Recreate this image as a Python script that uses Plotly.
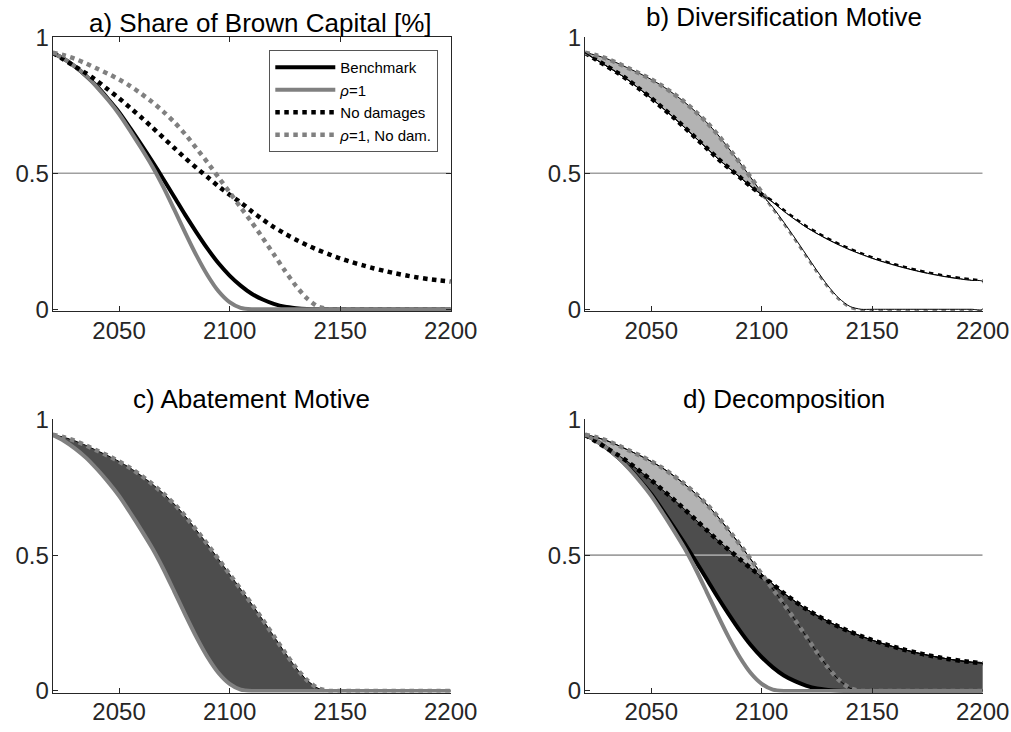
import plotly.graph_objects as go
import numpy as np

# ---------------- data ----------------
years = list(range(2020, 2201, 5))

benchmark = [0.943, 0.921, 0.893, 0.859, 0.820, 0.774, 0.725, 0.667, 0.606, 0.544,
             0.479, 0.413, 0.346, 0.283, 0.223, 0.169, 0.124, 0.087, 0.057, 0.036,
             0.020, 0.009, 0.004, 0.001, 0.0, 0.0, 0.0, 0.0, 0.0, 0.0,
             0.0, 0.0, 0.0, 0.0, 0.0, 0.0, 0.0]

rho_one = [0.943, 0.921, 0.893, 0.859, 0.817, 0.770, 0.718, 0.657, 0.593, 0.526,
           0.450, 0.366, 0.280, 0.198, 0.125, 0.066, 0.026, 0.005, 0.0, 0.0,
           0.0, 0.0, 0.0, 0.0, 0.0, 0.0, 0.0, 0.0, 0.0, 0.0,
           0.0, 0.0, 0.0, 0.0, 0.0, 0.0, 0.0]

no_damages = [0.943, 0.918, 0.893, 0.868, 0.840, 0.808, 0.776, 0.741, 0.706, 0.669,
              0.631, 0.593, 0.555, 0.520, 0.486, 0.452, 0.421, 0.393, 0.360, 0.330,
              0.302, 0.278, 0.256, 0.236, 0.218, 0.202, 0.187, 0.174, 0.162, 0.151,
              0.141, 0.132, 0.124, 0.117, 0.111, 0.106, 0.102]

rho_one_no_dam = [0.943, 0.934, 0.921, 0.904, 0.885, 0.866, 0.845, 0.821, 0.793, 0.762,
                  0.727, 0.688, 0.643, 0.592, 0.540, 0.485, 0.430, 0.375, 0.320, 0.262,
                  0.202, 0.142, 0.086, 0.040, 0.010, 0.0, 0.0, 0.0, 0.0, 0.0,
                  0.0, 0.0, 0.0, 0.0, 0.0, 0.0, 0.0]

threshold = 0.5
x_ticks = [2050, 2100, 2150, 2200]
y_ticks = [0, 0.5, 1]
y_tick_labels = ["0", "0.5", "1"]
titles = ["a) Share of Brown Capital [%]", "b) Diversification Motive",
          "c) Abatement Motive", "d) Decomposition"]
legend_names = ["Benchmark", "<i>ρ</i>=1", "No damages", "<i>ρ</i>=1, No dam."]

# ---------------- styling ----------------
W, H = 1011, 732
FONT = "Liberation Sans, Arial, Helvetica, sans-serif"
AXC = "#262626"
BLACK = "#000000"
GRAY = "#808080"
LIGHT = "#b3b3b3"
DARK = "#4d4d4d"
THR = "#a0a0a0"
LW = 4
DW = 4.5
SMOOTH = 0.7

# panel pixel boxes: (left, right, top, bottom)
boxes = {1: (52.7, 450.7, 37.3, 309.3), 2: (585.0, 982.7, 37.3, 309.3),
         3: (52.7, 450.7, 419.3, 691.0), 4: (585.0, 982.7, 419.3, 691.0)}

fig = go.Figure()


def ax_ids(k):
    return ("x" if k == 1 else f"x{k}", "y" if k == 1 else f"y{k}")


def add_line(k, y, color, dash="solid", width=LW, name=None, legend=False):
    xa, ya = ax_ids(k)
    fig.add_trace(go.Scatter(x=years, y=y, mode="lines", xaxis=xa, yaxis=ya,
                             line=dict(color=color, dash=dash, width=width,
                                       shape="spline", smoothing=SMOOTH),
                             name=name, showlegend=legend, hoverinfo="skip"))


def add_band(k, upper, lower, fillcolor):
    xa, ya = ax_ids(k)
    xs = years + years[::-1]
    ys = list(upper) + list(lower)[::-1]
    fig.add_trace(go.Scatter(x=xs, y=ys, mode="lines", fill="toself",
                             fillcolor=fillcolor, xaxis=xa, yaxis=ya,
                             line=dict(color=BLACK, width=1, shape="spline",
                                       smoothing=SMOOTH),
                             showlegend=False, hoverinfo="skip"))


def add_threshold(k):
    xa, ya = ax_ids(k)
    fig.add_trace(go.Scatter(x=[years[0], years[-1]], y=[threshold, threshold],
                             mode="lines", xaxis=xa, yaxis=ya,
                             line=dict(color=THR, width=1.6),
                             showlegend=False, hoverinfo="skip"))


bm = np.array(benchmark)
r1 = np.array(rho_one)
nd = np.array(no_damages)
r1nd = np.array(rho_one_no_dam)

# a) all four paths
add_threshold(1)
add_line(1, benchmark, BLACK, "solid", name=legend_names[0], legend=True)
add_line(1, rho_one, GRAY, "solid", name=legend_names[1], legend=True)
add_line(1, no_damages, BLACK, "dot", width=DW, name=legend_names[2], legend=True)
add_line(1, rho_one_no_dam, GRAY, "dot", width=DW, name=legend_names[3], legend=True)

# b) diversification motive
add_band(2, np.maximum(r1nd, nd), nd, LIGHT)
add_threshold(2)
add_line(2, no_damages, BLACK, "dot", width=DW)
add_line(2, rho_one_no_dam, GRAY, "dot", width=DW)
add_band(2, nd, np.minimum(nd, r1nd), "#ffffff")

# c) abatement motive
add_band(3, r1nd, r1, DARK)
add_line(3, rho_one, GRAY, "solid")
add_line(3, rho_one_no_dam, GRAY, "dot", width=DW)

# d) decomposition
add_band(4, nd, bm, DARK)
add_band(4, np.maximum(r1nd, nd), nd, LIGHT)
add_line(4, rho_one_no_dam, BLACK, "solid", width=1)
add_threshold(4)
add_line(4, benchmark, BLACK, "solid")
add_line(4, rho_one, GRAY, "solid")
add_line(4, no_damages, BLACK, "dot", width=DW)
add_line(4, rho_one_no_dam, GRAY, "dot", width=DW)

tickfont = dict(family=FONT, size=24, color=AXC)
layout = dict(width=W, height=H,
              margin=dict(l=0, r=0, t=0, b=0, pad=0, autoexpand=False),
              paper_bgcolor="white", plot_bgcolor="white", autosize=False)

annotations = []
for k, (l, r, t, b) in boxes.items():
    xkey = "xaxis" if k == 1 else f"xaxis{k}"
    ykey = "yaxis" if k == 1 else f"yaxis{k}"
    xa, ya = ax_ids(k)
    mirror = "ticks" if k == 1 else False
    layout[xkey] = dict(domain=[l / W, r / W], anchor=ya, range=[years[0], years[-1]],
                        tickvals=x_ticks, ticks="inside", ticklen=5, tickwidth=1,
                        tickcolor=AXC, showline=True, linecolor=AXC, linewidth=1,
                        mirror=mirror, showgrid=False, zeroline=False,
                        tickfont=tickfont, ticklabelstandoff=-2, fixedrange=True,
                        automargin=False)
    layout[ykey] = dict(domain=[1 - (b + 1.6) / H, 1 - t / H], anchor=xa,
                        range=[-0.006, 1],
                        tickvals=y_ticks, ticktext=y_tick_labels, ticks="inside",
                        ticklen=5, tickwidth=1, tickcolor=AXC, showline=True,
                        linecolor=AXC, linewidth=1, mirror=mirror, showgrid=False,
                        zeroline=False, tickfont=tickfont, ticklabelstandoff=-2,
                        fixedrange=True, automargin=False)
    annotations.append(dict(text=titles[k - 1], xref="paper", yref="paper",
                            x=(l + r) / 2 / W, y=1 - t / H, xanchor="center",
                            yanchor="bottom", showarrow=False,
                            xshift=9 if k == 1 else 0,
                            yshift=-2.5 if k == 1 else 3.5,
                            font=dict(family=FONT, size=26, color=BLACK)))

layout["annotations"] = annotations
layout["legend"] = dict(x=438.3 / W, y=1 - 50 / H, xanchor="right", yanchor="top",
                        bgcolor="white", bordercolor="#555555", borderwidth=1,
                        font=dict(family=FONT, size=15, color=BLACK),
                        itemwidth=60, tracegroupgap=0)
layout["showlegend"] = True

fig.update_layout(**layout)
fig.write_html("out.html")
